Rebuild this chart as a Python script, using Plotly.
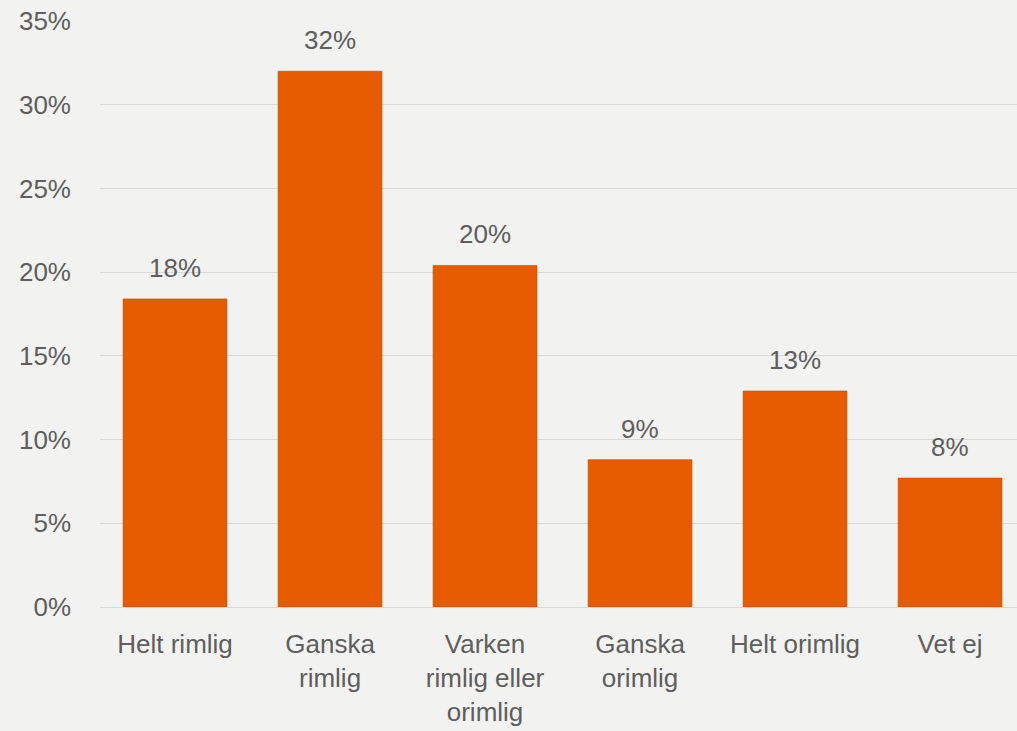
import plotly.graph_objects as go

categories = ["Helt rimlig", "Ganska<br>rimlig", "Varken<br>rimlig eller<br>orimlig", "Ganska<br>orimlig", "Helt orimlig", "Vet ej"]
values = [18.4, 32.0, 20.4, 8.8, 12.9, 7.7]
labels = ["18%", "32%", "20%", "9%", "13%", "8%"]
y_ticks = [0, 5, 10, 15, 20, 25, 30, 35]

font_color = "#5E5E5E"
font_family = "Liberation Sans, Arial, sans-serif"
fsize = 26

x_pos = list(range(len(categories)))

fig = go.Figure(go.Bar(
    x=x_pos,
    y=values,
    marker=dict(color="#E65A00", line=dict(color="#C24C00", width=0.6)),
    hoverinfo="y",
))

for xi, v, lab in zip(x_pos, values, labels):
    fig.add_annotation(
        x=xi, y=v, text=lab, showarrow=False,
        xref="x", yref="y", yanchor="bottom", yshift=14,
        font=dict(size=fsize, color=font_color, family=font_family),
    )

fig.update_layout(
    width=1017, height=731,
    margin=dict(l=100, r=0, t=21, b=124),
    paper_bgcolor="#F2F2F0",
    plot_bgcolor="#F2F2F0",
    bargap=0.33,
    showlegend=False,
    font=dict(family=font_family, size=fsize, color=font_color),
    xaxis=dict(
        range=[-0.484, 5.432],
        tickmode="array",
        tickvals=x_pos,
        ticktext=categories,
        showgrid=False,
        showline=True,
        linecolor="#D9D9D9",
        linewidth=1,
        ticks="",
        ticklabelstandoff=14,
        tickfont=dict(size=fsize, color=font_color),
    ),
    yaxis=dict(
        range=[0, 35],
        tickmode="array",
        tickvals=y_ticks,
        ticktext=[f"{v}%" for v in y_ticks],
        showgrid=True,
        gridcolor="#D9D9D9",
        gridwidth=1,
        zeroline=False,
        showline=False,
        ticks="",
        ticklabelstandoff=28,
        tickfont=dict(size=fsize, color=font_color),
    ),
)

fig.write_html(
    "out.html",
    config={"displayModeBar": False},
    post_script="document.body.style.margin='0';document.body.style.overflow='hidden';",
)
